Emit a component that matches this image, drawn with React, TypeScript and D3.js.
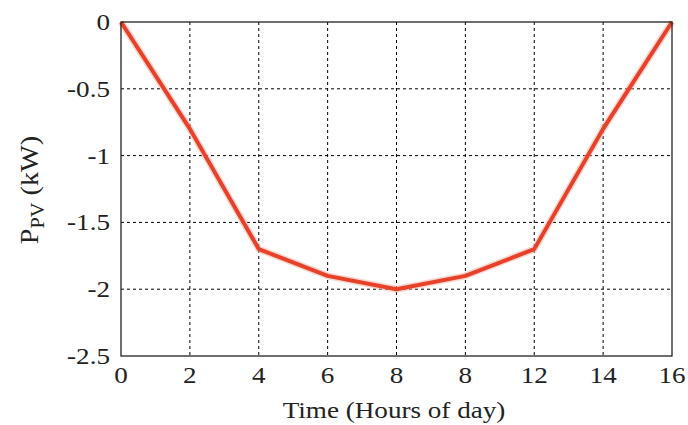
import React from "react";
import * as d3 from "d3";

const hours = [0, 2, 4, 6, 8, 10, 12, 14, 16];
const power = [0, -0.8, -1.7, -1.9, -2.0, -1.9, -1.7, -0.8, 0];
const xTickValues = [0, 2, 4, 6, 8, 10, 12, 14, 16];
const xTickLabels = ["0", "2", "4", "6", "8", "8", "12", "14", "16"];
const yTickValues = [0, -0.5, -1, -1.5, -2, -2.5];
const yTickLabels = ["0", "-0.5", "-1", "-1.5", "-2", "-2.5"];

const W = 688, H = 425;
const m = { left: 121, right: 672, top: 22, bottom: 356 };
const font = "'Liberation Serif', 'DejaVu Serif', serif";
const SX = 1.13;

export default function App() {
  const x = d3.scaleLinear().domain([0, 16]).range([m.left, m.right]);
  const y = d3.scaleLinear().domain([-2.5, 0]).range([m.bottom, m.top]);
  const line = d3.line<number>().x((_, i) => x(hours[i])).y((d) => y(d));
  const path = line(power) || "";
  return (
    <svg width={W} height={H} style={{ position: "absolute", left: 0, top: 0, background: "#fff" }}>
      <rect x={0} y={0} width={W} height={H} fill="#fff" />
      {xTickValues.slice(1, -1).map((v, i) => (
        <line key={"gx" + i} x1={x(v)} x2={x(v)} y1={m.top} y2={m.bottom} stroke="#000" strokeWidth={1} strokeDasharray="3,3" />
      ))}
      {yTickValues.slice(1, -1).map((v, i) => (
        <line key={"gy" + i} x1={m.left} x2={m.right} y1={y(v)} y2={y(v)} stroke="#000" strokeWidth={1} strokeDasharray="3,3" />
      ))}
      <path d={path} fill="none" stroke="#f4b0a0" strokeWidth={7} strokeLinejoin="round" opacity={0.5} />
      <path d={path} fill="none" stroke="#e8412a" strokeWidth={4} strokeLinejoin="round" />
      <rect x={m.left} y={m.top} width={m.right - m.left} height={m.bottom - m.top} fill="none" stroke="#222" strokeWidth={1.3} />
      {xTickValues.map((v, i) => (
        <text key={"xt" + i} transform={`translate(${x(v)},383) scale(${SX},1)`} textAnchor="middle" fontFamily={font} fontSize={24} fill="#222">{xTickLabels[i]}</text>
      ))}
      {yTickValues.map((v, i) => (
        <text key={"yt" + i} transform={`translate(110,${y(v) + 8}) scale(${SX},1)`} textAnchor="end" fontFamily={font} fontSize={24} fill="#222">{yTickLabels[i]}</text>
      ))}
      <text transform={`translate(394,418) scale(${SX},1)`} textAnchor="middle" fontFamily={font} fontSize={24} fill="#222">Time (Hours of day)</text>
      <text transform={`translate(38,190) rotate(-90) scale(${SX},1)`} textAnchor="middle" fontFamily={font} fontSize={25} fill="#222">
        P<tspan dy={6} fontSize={18}>PV</tspan><tspan dy={-6}> (kW)</tspan>
      </text>
    </svg>
  );
}
